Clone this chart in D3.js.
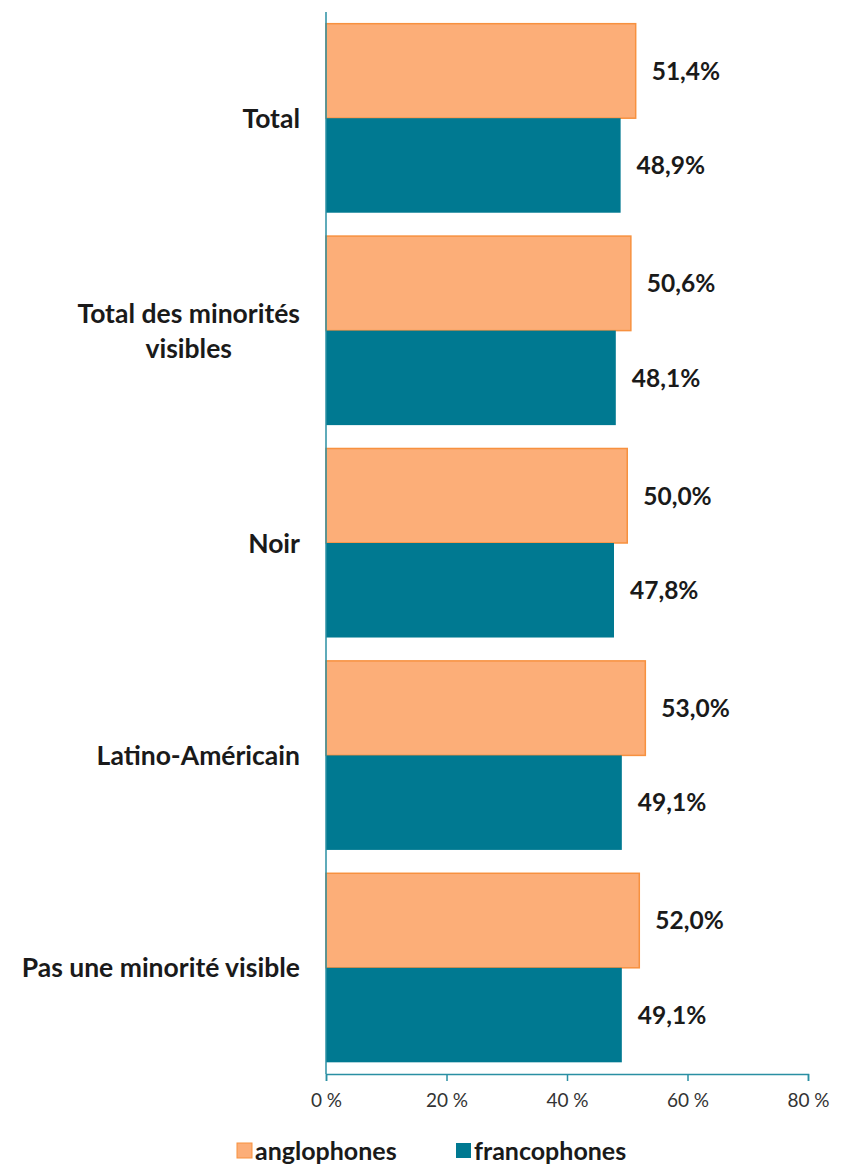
<!DOCTYPE html>
<html><head><meta charset="utf-8">
<script src="https://cdn.jsdelivr.net/npm/d3@7"></script>
<style>body{margin:0;background:#fff}svg{display:block}</style>
</head><body>
<script>
const categories = ["Total", "Total des minorités visibles", "Noir", "Latino-Américain", "Pas une minorité visible"];
const categoryLines = [["Total"], ["Total des minorités", "visibles"], ["Noir"], ["Latino-Américain"], ["Pas une minorité visible"]];
const seriesNames = ["anglophones", "francophones"];
const anglophones = [51.4, 50.6, 50.0, 53.0, 52.0];
const francophones = [48.9, 48.1, 47.8, 49.1, 49.1];
const xTicks = [0, 20, 40, 60, 80];
const colors = ["#FCAE78", "#007991"];
const strokes = ["#F7913F", "#2a8fa3"];

const W = 855, H = 1164;
const svg = d3.select("body").append("svg").attr("width", W).attr("height", H);
const font = "Lato, 'Open Sans', sans-serif";
const textColor = "#1a1a1a";

const x = d3.scaleLinear().domain([0, 80]).range([326, 808]);
const y = d3.scaleBand().domain(categories).range([12, 1074]).paddingInner(0.11).paddingOuter(0.055);
const sub = d3.scaleBand().domain(seriesNames).range([0, y.bandwidth()]);

const series = [anglophones, francophones];
series.forEach((vals, si) => {
  svg.append("g").selectAll("rect").data(vals).join("rect")
    .attr("x", x(0))
    .attr("y", (d, i) => y(categories[i]) + sub(seriesNames[si]))
    .attr("width", d => x(d) - x(0))
    .attr("height", sub.bandwidth())
    .attr("fill", colors[si])
    .attr("stroke", si === 0 ? strokes[0] : "none")
    .attr("stroke-width", 1.5);
  svg.append("g").selectAll("text").data(vals).join("text")
    .attr("x", d => x(d) + 16)
    .attr("y", (d, i) => y(categories[i]) + sub(seriesNames[si]) + sub.bandwidth() / 2)
    .attr("dy", "0.36em")
    .attr("font-family", font).attr("font-weight", "bold").attr("font-size", 24.5)
    .attr("fill", textColor)
    .text(d => d.toFixed(1).replace(".", ",") + "%");
});

// category labels
const catSize = 26.5;
categories.forEach((c, i) => {
  const lines = categoryLines[i];
  const cy = y(c) + y.bandwidth() / 2;
  const g = svg.append("g").attr("font-family", font).attr("font-weight", "bold")
    .attr("font-size", catSize).attr("fill", textColor);
  if (lines.length === 1) {
    g.append("text").attr("text-anchor", "end").attr("x", 300).attr("y", cy).attr("dy", "0.36em").text(lines[0]);
  } else {
    const t1 = g.append("text").attr("text-anchor", "end").attr("x", 300).attr("y", cy - 17.5).attr("dy", "0.36em").text(lines[0]);
    const w1 = t1.node().getComputedTextLength();
    g.append("text").attr("text-anchor", "middle").attr("x", 300 - w1 / 2).attr("y", cy + 17.5).attr("dy", "0.36em").text(lines[1]);
  }
});

// axes
const axisColor = "#2a8fa3";
svg.append("line").attr("x1", 326).attr("x2", 326).attr("y1", 12).attr("y2", 1074)
  .attr("stroke", axisColor).attr("stroke-width", 1.5);
const xAxis = svg.append("g").attr("transform", "translate(0,1074)")
  .call(d3.axisBottom(x).tickValues(xTicks).tickSize(7).tickFormat(d => d + " %"));
xAxis.select(".domain").attr("stroke", axisColor).attr("stroke-width", 1.5);
xAxis.selectAll(".tick line").attr("stroke", axisColor).attr("stroke-width", 1.5);
xAxis.selectAll("text").attr("font-family", font).attr("font-size", 19).attr("fill", "#333")
  .attr("y", 20);

// legend
const legendItems = [{ name: seriesNames[0], x: 237 }, { name: seriesNames[1], x: 456 }];
legendItems.forEach((l, i) => {
  svg.append("rect").attr("x", l.x).attr("y", 1143).attr("width", 15).attr("height", 15)
    .attr("fill", colors[i]).attr("stroke", i === 0 ? strokes[0] : "none");
  svg.append("text").attr("x", l.x + 18).attr("y", 1151).attr("dy", "0.36em")
    .attr("font-family", font).attr("font-weight", "bold").attr("font-size", 25).attr("fill", textColor)
    .text(l.name);
});
</script>
</body></html>
